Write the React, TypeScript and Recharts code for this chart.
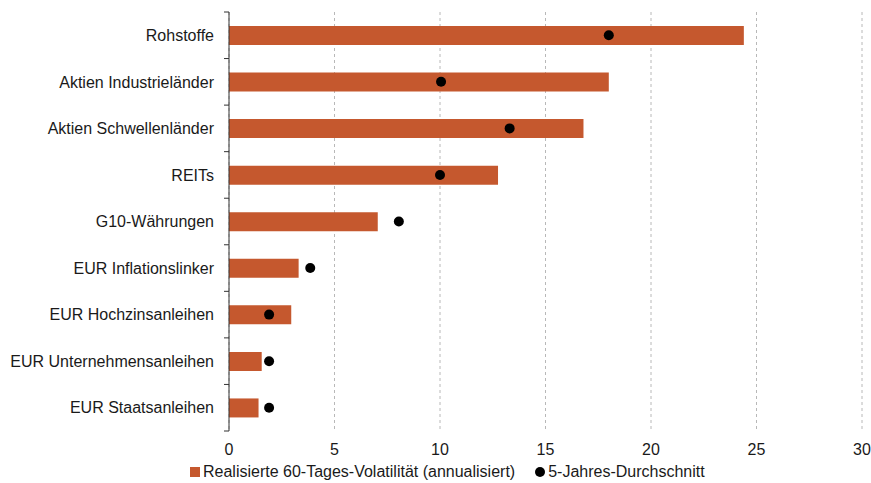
import React from 'react';
import {
  ComposedChart,
  Bar,
  Line,
  XAxis,
  YAxis,
  CartesianGrid,
  Legend,
} from 'recharts';

const categories = [
  'Rohstoffe',
  'Aktien Industrieländer',
  'Aktien Schwellenländer',
  'REITs',
  'G10-Währungen',
  'EUR Inflationslinker',
  'EUR Hochzinsanleihen',
  'EUR Unternehmensanleihen',
  'EUR Staatsanleihen',
];
const vol60 = [24.4, 18.0, 16.8, 12.75, 7.05, 3.3, 2.95, 1.55, 1.4];
const avg5y = [18.0, 10.05, 13.3, 10.0, 8.05, 3.85, 1.9, 1.9, 1.9];
const xTicks = [0, 5, 10, 15, 20, 25, 30];

const BAR_NAME = 'Realisierte 60-Tages-Volatilität (annualisiert)';
const DOT_NAME = '5-Jahres-Durchschnitt';
const BAR_COLOR = '#C5582E';
const AXIS_COLOR = '#333';
const TEXT_COLOR = '#1a1a1a';
const FONT = '"Liberation Sans", Arial, sans-serif';
const FONT_SIZE = 16;
const TICK_SIZE = 5;
const TICK_MARGIN = 10;

const data = categories.map((name, i) => ({ name, vol: vol60[i], avg: avg5y[i] }));

// category label plus the small tick marks that sit between the categories
const CategoryTick = (props: any) => {
  const { x, y, payload, index, visibleTicksCount } = props;
  const half = payload && typeof payload.offset === 'number' ? payload.offset : 0;
  const x1 = x + TICK_MARGIN;
  const x2 = x + TICK_MARGIN + TICK_SIZE;
  return (
    <g>
      <text
        x={x}
        y={y}
        dy="0.355em"
        textAnchor="end"
        fill={TEXT_COLOR}
        fontSize={FONT_SIZE}
        fontFamily={FONT}
      >
        {payload.value}
      </text>
      <line x1={x1} x2={x2} y1={y - half} y2={y - half} stroke={AXIS_COLOR} />
      {index === visibleTicksCount - 1 && (
        <line x1={x1} x2={x2} y1={y + half} y2={y + half} stroke={AXIS_COLOR} />
      )}
    </g>
  );
};

const LegendContent = () => (
  <div
    style={{
      display: 'flex',
      alignItems: 'center',
      height: 22,
      paddingLeft: 190,
      fontFamily: FONT,
      fontSize: FONT_SIZE,
      color: TEXT_COLOR,
      whiteSpace: 'nowrap',
    }}
  >
    <span style={{ display: 'inline-block', width: 10, height: 10, background: BAR_COLOR, marginRight: 3 }} />
    <span>{BAR_NAME}</span>
    <span
      style={{
        display: 'inline-block',
        width: 10,
        height: 10,
        borderRadius: '50%',
        background: '#000',
        marginLeft: 20,
        marginRight: 3,
      }}
    />
    <span>{DOT_NAME}</span>
  </div>
);

const App: React.FC = () => {
  return (
    <div style={{ position: 'absolute', left: 0, top: 0 }}>
      <ComposedChart
        width={871}
        height={483}
        data={data}
        layout="vertical"
        margin={{ top: 12, right: 9, left: 0, bottom: 0 }}
      >
        <CartesianGrid horizontal={false} stroke="#b8b8b8" strokeDasharray="3 3" />
        <YAxis
          type="category"
          dataKey="name"
          width={229}
          stroke={AXIS_COLOR}
          tickLine={false}
          tickSize={TICK_SIZE}
          tickMargin={TICK_MARGIN}
          interval={0}
          tick={<CategoryTick />}
        />
        <XAxis
          type="number"
          domain={[0, 30]}
          ticks={xTicks}
          axisLine={false}
          tickLine={false}
          tickSize={0}
          tickMargin={13}
          height={30}
          tick={{ fill: TEXT_COLOR, fontSize: FONT_SIZE, fontFamily: FONT }}
        />
        <Legend verticalAlign="bottom" content={<LegendContent />} />
        <Bar
          dataKey="vol"
          name={BAR_NAME}
          fill={BAR_COLOR}
          barSize={19}
          legendType="square"
          isAnimationActive={false}
        />
        <Line
          dataKey="avg"
          name={DOT_NAME}
          stroke="none"
          dot={{ r: 5, fill: '#000', stroke: 'none' }}
          activeDot={false}
          legendType="circle"
          isAnimationActive={false}
        />
      </ComposedChart>
    </div>
  );
};

export default App;
